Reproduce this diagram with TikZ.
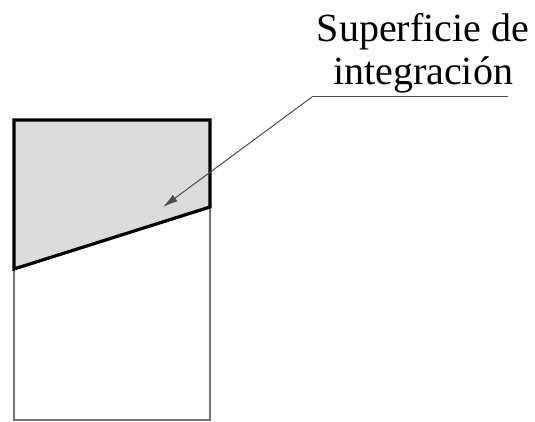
\documentclass[tikz,border=0pt]{standalone}
\usepackage{fontspec}
\setmainfont{Liberation Serif}
\usetikzlibrary{arrows.meta}
\begin{document}
\begin{tikzpicture}[x=1pt,y=1pt,
  thinline/.style={line width=1.6pt,draw=black!55},
  boldline/.style={line width=3.2pt,draw=black,line join=miter},
  leader/.style={line width=1pt,draw=black!70},
  lbl/.style={font=\fontsize{40}{44}\selectfont,inner sep=0pt,anchor=base}]
\useasboundingbox (0,0) rectangle (535,422);
% lower rectangle
\draw[thinline] (14,153) -- (14,2) -- (210,2) -- (210,215);
% integration surface
\filldraw[fill=black!14,boldline] (14,302) -- (210,302) -- (210,215) -- (14,153) -- cycle;
% labels
\node[lbl] (l1) at (423,380) {Superficie de};
\node[lbl] (l2) at (423,337) {integración};
\coordinate (ul) at (312,325);
\coordinate (ur) at (508,325);
\coordinate (tip) at (163,215);
\draw[leader] (ur) -- (ul);
\draw[leader,-{Latex[length=15pt,width=8pt]}] (ul) -- (tip);
\end{tikzpicture}
\end{document}
